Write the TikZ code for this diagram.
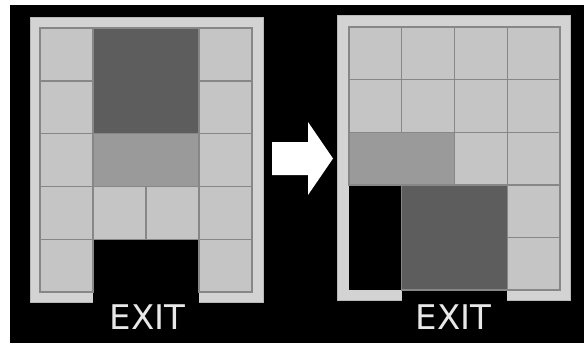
\documentclass[tikz,border=0pt]{standalone}
\usepackage{fontspec}
\setmainfont{DejaVu Sans}
\definecolor{framec}{HTML}{D3D3D3}
\definecolor{frameedge}{HTML}{B8B8B8}
\definecolor{cellc}{HTML}{C5C5C5}
\definecolor{edgec}{HTML}{878787}
\definecolor{medc}{HTML}{9A9A9A}
\definecolor{darkc}{HTML}{5D5D5D}
\definecolor{textc}{HTML}{E8E8E8}
\begin{document}
\begin{tikzpicture}[x=1pt,y=-1pt,
  blk/.style={draw=edgec,line width=1.4pt,inner sep=0pt,outer sep=0pt,anchor=north west},
  framebox/.style={fill=framec,draw=frameedge,line width=0.8pt,inner sep=0pt,outer sep=0pt,anchor=north west,minimum width=233pt,minimum height=285pt},
  cellL/.style={blk,fill=cellc,minimum width=53pt,minimum height=52.8pt},
  cellR/.style={blk,fill=cellc,minimum width=52.75pt,minimum height=52.6pt},
  medblk/.style={blk,fill=medc},
  darkblk/.style={blk,fill=darkc},
  exitlabel/.style={text=textc,font=\fontsize{34}{34}\selectfont,inner sep=0pt,anchor=base}]
\useasboundingbox (0,0) rectangle (584,343);
\fill[white] (0,0) rectangle (584,343);
\fill[black] (10,5) rectangle (584,343);
% ---------- left panel ----------
\node[framebox] (frameL) at (30,17) {};
\fill[black] (40,28) rectangle (252,292);
\fill[black] (93,291) rectangle (199,303);
\node[cellL] (L11) at (40,28) {};
\node[cellL] (L21) at (40,80.8) {};
\node[cellL] (L31) at (40,133.6) {};
\node[cellL] (L41) at (40,186.4) {};
\node[cellL] (L51) at (40,239.2) {};
\node[cellL] (L14) at (199,28) {};
\node[cellL] (L24) at (199,80.8) {};
\node[cellL] (L34) at (199,133.6) {};
\node[cellL] (L44) at (199,186.4) {};
\node[cellL] (L54) at (199,239.2) {};
\node[darkblk,minimum width=106pt,minimum height=105.6pt] (Ldark) at (93,28) {};
\node[medblk,minimum width=106pt,minimum height=52.8pt] (Lmed) at (93,133.6) {};
\node[cellL] (L42) at (93,186.4) {};
\node[cellL] (L43) at (146,186.4) {};
\node[exitlabel] (exitL) at (147.5,329) {EXIT};
% ---------- arrow ----------
\fill[white] (272,142) -- (308,142) -- (308,122) -- (333,158.5) -- (308,195) -- (308,175) -- (272,175) -- cycle;
% ---------- right panel ----------
\node[framebox] (frameR) at (337,15) {};
\fill[black] (349,27) rectangle (560,290);
\fill[black] (401.75,289) rectangle (507.25,301);
\node[cellR] (R11) at (349,27) {};
\node[cellR] (R12) at (401.75,27) {};
\node[cellR] (R13) at (454.5,27) {};
\node[cellR] (R14) at (507.25,27) {};
\node[cellR] (R21) at (349,79.6) {};
\node[cellR] (R22) at (401.75,79.6) {};
\node[cellR] (R23) at (454.5,79.6) {};
\node[cellR] (R24) at (507.25,79.6) {};
\node[medblk,minimum width=105.5pt,minimum height=52.6pt] (Rmed) at (349,132.2) {};
\node[cellR] (R33) at (454.5,132.2) {};
\node[cellR] (R34) at (507.25,132.2) {};
\node[darkblk,minimum width=105.5pt,minimum height=105.2pt] (Rdark) at (401.75,184.8) {};
\node[cellR] (R44) at (507.25,184.8) {};
\node[cellR] (R54) at (507.25,237.4) {};
\node[exitlabel] (exitR) at (453.5,329) {EXIT};
\end{tikzpicture}
\end{document}
